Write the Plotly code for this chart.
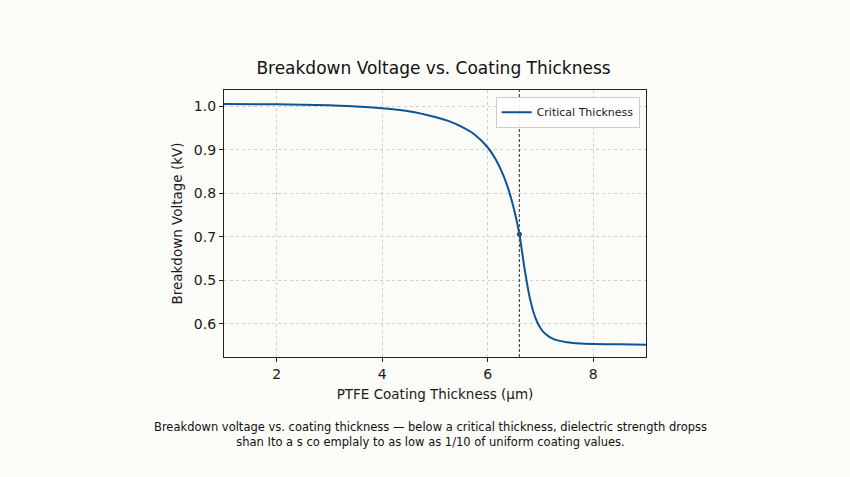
import plotly.graph_objects as go

thickness_um = [1.0, 2.0, 3.0, 3.5, 4.0, 4.5, 5.0, 5.25, 5.5, 5.75, 6.0, 6.15, 6.3, 6.4, 6.5,
                6.6, 6.7, 6.8, 6.9, 7.0, 7.1, 7.25, 7.5, 7.75, 8.0, 8.5, 9.0]
voltage_kv = [1.005, 1.004, 1.002, 0.999, 0.995, 0.988, 0.975, 0.966, 0.953, 0.935, 0.905, 0.878,
              0.840, 0.806, 0.762, 0.706, 0.625, 0.558, 0.515, 0.490, 0.476, 0.465, 0.458, 0.455,
              0.454, 0.453, 0.452]
critical_x = [6.6]
critical_y = [0.706]
y_tickvals = [1.0, 0.9, 0.8, 0.7, 0.6, 0.5]
y_ticktext = ["1.0", "0.9", "0.8", "0.7", "0.5", "0.6"]
x_tickvals = [2, 4, 6, 8]

line_color = "#0d5494"
font = "DejaVu Sans"

fig = go.Figure()
fig.add_trace(go.Scatter(x=thickness_um, y=voltage_kv, mode="lines", name="Critical Thickness",
                         line=dict(color=line_color, width=2, shape="spline", smoothing=0.6)))
fig.add_trace(go.Scatter(x=critical_x, y=critical_y, mode="markers", showlegend=False,
                         marker=dict(color=line_color, size=5)))
fig.add_vline(x=critical_x[0], line=dict(color="#4a4f5a", width=1.2, dash="3px,2px"))

fig.update_layout(
    width=850, height=477,
    paper_bgcolor="#fbfbf8", plot_bgcolor="#fbfbf8",
    margin=dict(l=224, r=204, t=90, b=120),
    font=dict(family=font, color="#1a1a1a"),
    title=dict(text="Breakdown Voltage vs. Coating Thickness", x=0.51, xanchor="center",
               y=0.857, yanchor="middle", font=dict(size=17, color="#111")),
    legend=dict(x=0.985, y=0.975, xanchor="right", yanchor="top", bgcolor="rgba(255,255,255,0.9)",
                bordercolor="#cccccc", borderwidth=1, font=dict(size=11)),
    showlegend=True,
)
fig.update_xaxes(range=[1.0, 9.0], tickvals=x_tickvals, ticks="outside", ticklen=4,
                 tickcolor="#222", tickfont=dict(size=14),
                 showgrid=True, gridcolor="#cfcfcf", griddash="dot", gridwidth=1,
                 showline=True, linecolor="#222", linewidth=1.2, mirror=True, zeroline=False,
                 title=dict(text="PTFE Coating Thickness (μm)", font=dict(size=13.5), standoff=8))
fig.update_yaxes(range=[0.424, 1.037], tickvals=y_tickvals, ticktext=y_ticktext, ticks="outside",
                 ticklen=4, tickcolor="#222", tickfont=dict(size=14),
                 showgrid=True, gridcolor="#cfcfcf", griddash="dot", gridwidth=1,
                 showline=True, linecolor="#222", linewidth=1.2, mirror=True, zeroline=False,
                 title=dict(text="Breakdown Voltage (kV)", font=dict(size=13.5), standoff=8))

fig.add_annotation(text="Breakdown voltage vs. coating thickness — below a critical thickness, dielectric strength dropss<br>"
                        "shan Ito a s co emplaly to as low as 1/10 of uniform coating values.",
                   xref="paper", yref="paper", x=0.49, y=-0.23, xanchor="center", yanchor="top",
                   showarrow=False, font=dict(size=11.5, color="#111"), align="center")

fig.write_html("out.html")
